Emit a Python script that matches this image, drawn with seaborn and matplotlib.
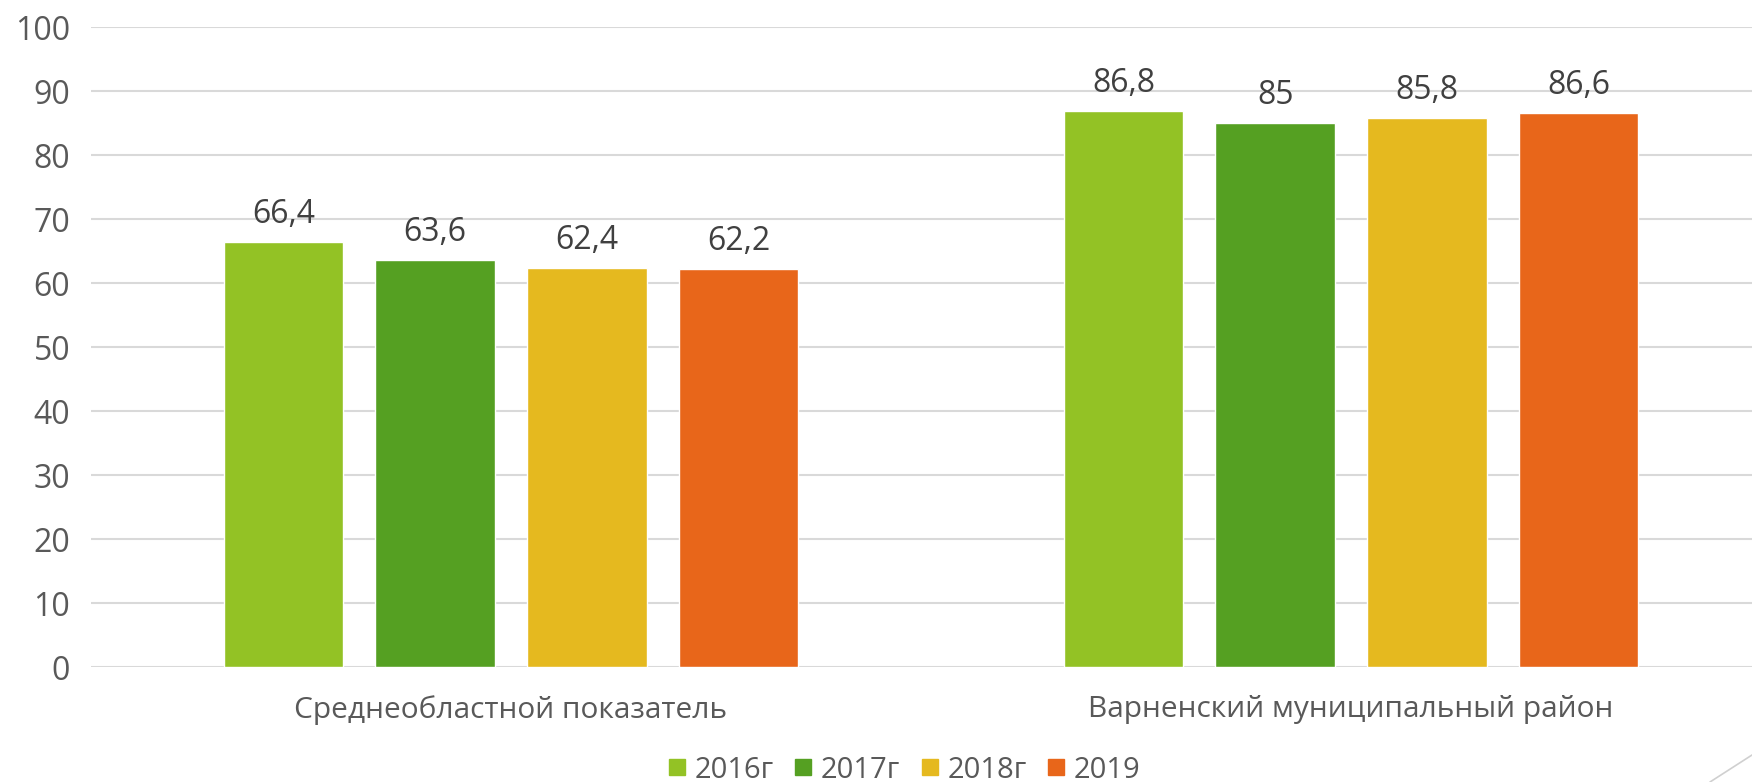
import matplotlib
matplotlib.use("Agg")
import matplotlib.pyplot as plt
import seaborn as sns
import pandas as pd
from matplotlib.lines import Line2D

categories = ["Среднеобластной показатель", "Варненский муниципальный район"]
years = ["2016г", "2017г", "2018г", "2019"]
values_2016 = [66.4, 86.8]
values_2017 = [63.6, 85.0]
values_2018 = [62.4, 85.8]
values_2019 = [62.2, 86.6]
colors = ["#93C225", "#55A022", "#E5B91F", "#E8661A"]

series = [values_2016, values_2017, values_2018, values_2019]
rows = []
for yr, vals in zip(years, series):
    for cat, v in zip(categories, vals):
        rows.append({"cat": cat, "year": yr, "value": v})
df = pd.DataFrame(rows)

sns.set_theme(style="white")
plt.rcParams["font.family"] = ["Open Sans", "DejaVu Sans"]

fig = plt.figure(figsize=(17.52, 7.82), dpi=100)
W, H = 1752, 782
left, right, top, bottom = 91, 1771, 27, 667
ax = fig.add_axes([left / W, 1 - bottom / H, (right - left) / W, (bottom - top) / H])

sns.barplot(data=df, x="cat", y="value", hue="year", hue_order=years,
            palette=colors, width=0.722, gap=0.21, saturation=1,
            ax=ax, legend=False)

ax.set_ylim(0, 100)
ax.set_yticks(range(0, 101, 10))
ax.grid(axis="y", color="#D9D9D9", linewidth=1.5)
ax.set_axisbelow(True)
for s in ax.spines.values():
    s.set_visible(False)
ax.set_xlabel("")
ax.set_ylabel("")
ax.tick_params(axis="y", labelsize=23, colors="#595959", length=0, pad=15)
ax.tick_params(axis="x", labelsize=21.5, colors="#595959", length=0, pad=20)
for lab in ax.get_yticklabels():
    lab.set_color("#595959")
for lab in ax.get_xticklabels():
    lab.set_color("#595959")

def fmt(v):
    if float(v).is_integer():
        return str(int(v))
    return str(v).replace(".", ",")

for cont in ax.containers:
    for bar in cont:
        h = bar.get_height()
        ax.annotate(fmt(h), (bar.get_x() + bar.get_width() / 2, h),
                    xytext=(0, 8), textcoords="offset points",
                    ha="center", va="bottom", fontsize=23, color="#404040")

handles = [Line2D([0], [0], marker="s", linestyle="", markersize=12.2,
                  markerfacecolor=c, markeredgecolor=c) for c in colors]
fig.legend(handles, years, loc="center", bbox_to_anchor=(903 / W, 1 - 770 / H),
           ncol=4, frameon=False, fontsize=21, handletextpad=0.2,
           columnspacing=0.62, labelcolor="#595959", handlelength=0.8)

fig.add_artist(Line2D([1710 / W, 1.0], [0.0, 1 - 755 / H],
                      transform=fig.transFigure, color="#D0D0D0", linewidth=1.2))

fig.savefig("out.png", dpi=100)
